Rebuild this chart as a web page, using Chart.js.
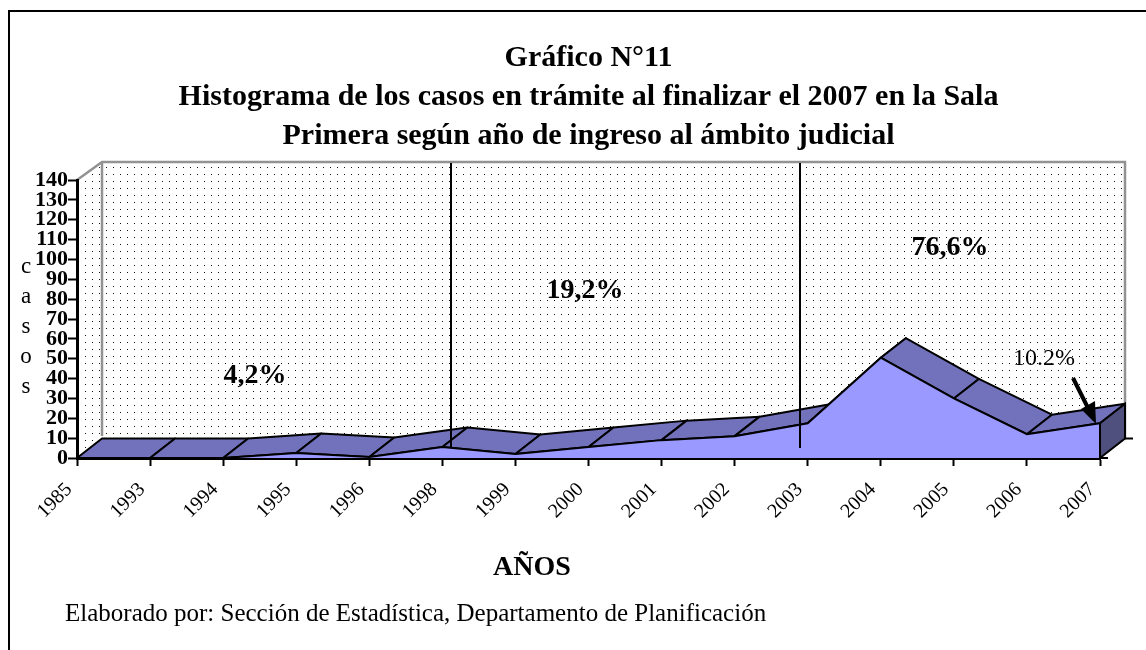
<!DOCTYPE html>
<html>
<head>
<meta charset="utf-8">
<title>Gráfico N°11</title>
<script src="https://cdn.jsdelivr.net/npm/chart.js@4/dist/chart.umd.min.js"></script>
<style>
  html, body { margin: 0; padding: 0; background: #fff; }
  #wrap { width: 1146px; height: 650px; overflow: hidden; }
</style>
</head>
<body>
<div id="wrap"><canvas id="chart" width="1146" height="650"></canvas></div>
<script>
const categories = ["1985", "1993", "1994", "1995", "1996", "1998", "1999", "2000", "2001", "2002", "2003", "2004", "2005", "2006", "2007"];
const casos = [0, 0, 0, 2.5, 0.5, 5.5, 2, 5.5, 9, 11, 17.5, 50.5, 30, 12, 17.5];
const titleLines = ["Gráfico N°11", "Histograma de los casos en trámite al finalizar el 2007 en la Sala", "Primera según año de ingreso al ámbito judicial"];
const shareLabels = ["4,2%", "19,2%", "76,6%"];
const dividers = [5.12, 9.89];
const yLetters = ["c", "a", "s", "o", "s"];

const SERIF = '"Liberation Serif", "Times New Roman", serif';
const DEPTH_X = 25;
const DEPTH_Y = -19.5;

function drawWalls(chart) {
  const { ctx } = chart;
  const { left, right, top, bottom } = chart.chartArea;
  const backTop = top - 18;
  const backBottom = bottom - 22;
  const backLeft = left + DEPTH_X;
  const backRight = right + DEPTH_X;

  ctx.save();
  // page frame, only top and left in the original
  ctx.fillStyle = "#000";
  ctx.fillRect(8, 10, 1138, 2);
  ctx.fillRect(8, 10, 2, 640);

  // dotted wall
  ctx.fillStyle = "#111";
  for (let y = backTop + 5; y < bottom; y += 7) {
    for (let x = backLeft + 4 - 21; x < backRight; x += 7) {
      const sideTop = x < backLeft ? top - (x - left) * 0.72 : backTop;
      const sideBottom = x < backLeft ? bottom - (x - left) * 0.85 : backBottom;
      if (y > sideTop + 2 && y < sideBottom) ctx.fillRect(Math.round(x), Math.round(y), 1, 1);
    }
  }

  ctx.strokeStyle = "#929292";
  ctx.lineWidth = 2.5;
  ctx.beginPath();
  ctx.moveTo(left, top);
  ctx.lineTo(backLeft, backTop);
  ctx.lineTo(backRight, backTop);
  ctx.lineTo(backRight, bottom + DEPTH_Y);
  ctx.moveTo(backLeft, backTop);
  ctx.lineTo(backLeft, backBottom);
  ctx.stroke();
  ctx.restore();
}

function drawRibbon(chart) {
  const { ctx } = chart;
  const pts = chart.getDatasetMeta(0).data;
  ctx.save();
  ctx.fillStyle = "#7272BC";
  ctx.strokeStyle = "#000";
  ctx.lineWidth = 2;
  ctx.lineJoin = "round";
  for (let i = 0; i < pts.length - 1; i++) {
    const a = pts[i], b = pts[i + 1];
    ctx.beginPath();
    ctx.moveTo(a.x, a.y);
    ctx.lineTo(a.x + DEPTH_X, a.y + DEPTH_Y);
    ctx.lineTo(b.x + DEPTH_X, b.y + DEPTH_Y);
    ctx.lineTo(b.x, b.y);
    ctx.closePath();
    ctx.fill();
    ctx.stroke();
  }
  ctx.restore();
}

function drawEndFace(chart) {
  const { ctx } = chart;
  const pts = chart.getDatasetMeta(0).data;
  const last = pts[pts.length - 1];
  const base = chart.scales.y.getPixelForValue(0);
  ctx.save();
  ctx.fillStyle = "#50507F";
  ctx.strokeStyle = "#000";
  ctx.lineWidth = 2;
  ctx.beginPath();
  ctx.moveTo(last.x, last.y);
  ctx.lineTo(last.x + DEPTH_X, last.y + DEPTH_Y);
  ctx.lineTo(last.x + DEPTH_X, base + DEPTH_Y);
  ctx.lineTo(last.x, base);
  ctx.closePath();
  ctx.fill();
  ctx.stroke();
  // depth axis ticks
  ctx.beginPath();
  ctx.moveTo(last.x, base);
  ctx.lineTo(last.x + 8, base);
  ctx.moveTo(last.x + DEPTH_X, base + DEPTH_Y);
  ctx.lineTo(last.x + DEPTH_X + 8, base + DEPTH_Y);
  ctx.stroke();
  ctx.restore();
}

function drawNotes(chart) {
  const { ctx } = chart;
  const xs = chart.scales.x;
  ctx.save();
  ctx.strokeStyle = "#000";
  ctx.fillStyle = "#000";
  ctx.lineWidth = 2;
  dividers.forEach((d) => {
    const x = Math.round(xs.getPixelForValue(d));
    ctx.beginPath();
    ctx.moveTo(x, 163);
    ctx.lineTo(x, 448);
    ctx.stroke();
  });

  ctx.textBaseline = "alphabetic";
  ctx.textAlign = "center";
  ctx.font = "bold 28px " + SERIF;
  ctx.fillText(shareLabels[0], 255, 383);
  ctx.fillText(shareLabels[1], 585, 298);
  ctx.fillText(shareLabels[2], 950, 255);

  ctx.font = "24px " + SERIF;
  ctx.fillText("10.2%", 1044, 365);

  // arrow to the last year
  ctx.lineWidth = 4;
  ctx.beginPath();
  ctx.moveTo(1073, 378);
  ctx.lineTo(1090, 412);
  ctx.stroke();
  ctx.beginPath();
  ctx.moveTo(1096, 424);
  ctx.lineTo(1081, 409);
  ctx.lineTo(1095, 401);
  ctx.closePath();
  ctx.fill();

  ctx.font = "bold 28px " + SERIF;
  ctx.fillText("AÑOS", 532, 575);

  ctx.font = "25px " + SERIF;
  ctx.textAlign = "left";
  ctx.fillText("Elaborado por: Sección de Estadística, Departamento de Planificación", 65, 621);

  ctx.textAlign = "center";
  ctx.font = "23px " + SERIF;
  yLetters.forEach((l, i) => ctx.fillText(l, 26, 273 + i * 30));
  ctx.restore();
}

const depthPlugin = {
  id: "depth",
  beforeDraw: drawWalls,
  beforeDatasetsDraw: drawRibbon,
  afterDatasetsDraw(chart) {
    drawEndFace(chart);
    drawNotes(chart);
  }
};

new Chart(document.getElementById("chart"), {
  type: "line",
  plugins: [depthPlugin],
  data: {
    labels: categories,
    datasets: [{
      label: "casos",
      data: casos,
      fill: "origin",
      backgroundColor: "#9999FF",
      borderColor: "#000",
      borderWidth: 2,
      tension: 0,
      pointRadius: 0,
      clip: false
    }]
  },
  options: {
    responsive: false,
    animation: false,
    events: [],
    layout: { padding: { left: 0, right: 46, top: 39, bottom: 0 } },
    plugins: {
      legend: { display: false },
      tooltip: { enabled: false },
      title: {
        display: true,
        text: titleLines,
        fullSize: false,
        color: "#000",
        font: { family: SERIF, size: 30, weight: "bold", lineHeight: 1.3 },
        padding: { top: 0, bottom: 24 }
      }
    },
    scales: {
      x: {
        type: "category",
        offset: false,
        z: 1,
        afterFit(s) { s.height = 192; },
        border: { display: true, color: "#000", width: 3 },
        grid: { display: true, drawOnChartArea: false, drawTicks: true, tickLength: 8, tickColor: "#000", tickWidth: 2 },
        ticks: {
          autoSkip: false,
          minRotation: 45,
          maxRotation: 45,
          padding: 12,
          labelOffset: -8,
          color: "#000",
          font: { family: SERIF, size: 20 }
        }
      },
      y: {
        min: 0,
        max: 140,
        z: 1,
        afterFit(s) { s.width = 77; },
        border: { display: true, color: "#000", width: 3 },
        grid: { display: true, drawOnChartArea: false, drawTicks: true, tickLength: 9, tickColor: "#000", tickWidth: 2 },
        ticks: {
          stepSize: 10,
          autoSkip: false,
          padding: 0,
          color: "#000",
          font: { family: SERIF, size: 22, weight: "bold" }
        }
      }
    }
  }
});
</script>
</body>
</html>
